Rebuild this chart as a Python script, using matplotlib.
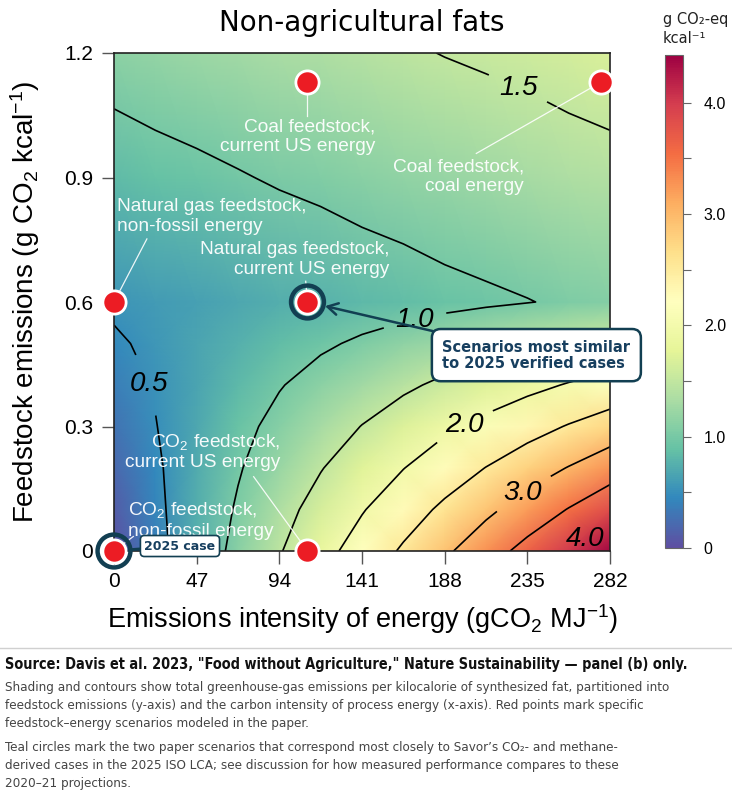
import numpy as np
import matplotlib
matplotlib.use("Agg")
import matplotlib.pyplot as plt
from matplotlib.lines import Line2D
from matplotlib.ticker import FixedLocator

plt.rcParams['mathtext.fontset'] = 'custom'
plt.rcParams['mathtext.rm'] = 'Liberation Sans'
plt.rcParams['mathtext.it'] = 'Liberation Sans:italic'
plt.rcParams['mathtext.bf'] = 'Liberation Sans:bold'

# ---------------- data ----------------
energy_intensity = [0, 23.5, 47, 70.5, 94, 117.5, 141, 164.5, 188, 211.5, 235, 258.5, 282]
feedstock_emissions = [0.0, 0.1, 0.2, 0.3, 0.4, 0.5, 0.6, 0.9, 1.2]
total_f000 = [0.02, 0.38, 0.75, 1.11, 1.47, 1.84, 2.20, 2.56, 2.92, 3.29, 3.65, 4.01, 4.38]
total_f010 = [0.11, 0.42, 0.73, 1.04, 1.35, 1.66, 1.97, 2.28, 2.59, 2.90, 3.21, 3.52, 3.83]
total_f020 = [0.20, 0.45, 0.71, 0.97, 1.22, 1.48, 1.74, 1.99, 2.25, 2.51, 2.77, 3.02, 3.28]
total_f030 = [0.28, 0.49, 0.69, 0.90, 1.10, 1.30, 1.51, 1.71, 1.92, 2.12, 2.32, 2.53, 2.73]
total_f040 = [0.37, 0.52, 0.67, 0.83, 0.98, 1.13, 1.28, 1.43, 1.58, 1.73, 1.88, 2.03, 2.18]
total_f050 = [0.46, 0.56, 0.66, 0.75, 0.85, 0.95, 1.05, 1.15, 1.24, 1.34, 1.44, 1.54, 1.63]
total_f060 = [0.55, 0.59, 0.64, 0.68, 0.73, 0.77, 0.82, 0.86, 0.91, 0.95, 0.99, 1.04, 1.09]
total_f090 = [0.84, 0.89, 0.93, 0.98, 1.03, 1.07, 1.12, 1.16, 1.21, 1.25, 1.30, 1.35, 1.39]
total_f120 = [1.13, 1.18, 1.23, 1.27, 1.32, 1.36, 1.41, 1.46, 1.51, 1.55, 1.59, 1.64, 1.68]
labelled_levels = [0.5, 1.0, 1.5, 2.0, 3.0, 4.0]
unlabelled_levels = [2.5, 3.5]
colorbar_max = 4.43

x_ticks = [0, 47, 94, 141, 188, 235, 282]
x_tick_labels = ['0', '47', '94', '141', '188', '235', '282']
y_ticks = [0, 0.3, 0.6, 0.9, 1.2]
y_tick_labels = ['0', '0.3', '0.6', '0.9', '1.2']
cb_ticks = [0, 1, 2, 3, 4]
cb_tick_labels = ['0', '1.0', '2.0', '3.0', '4.0']

scenario_energy = [0, 110, 0, 110, 110, 277]
scenario_feedstock = [0, 0, 0.6, 0.6, 1.13, 1.13]
highlighted_energy = [0, 110]
highlighted_feedstock = [0, 0.6]

Z = np.array([total_f000, total_f010, total_f020, total_f030, total_f040,
              total_f050, total_f060, total_f090, total_f120])
X, Y = np.meshgrid(energy_intensity, feedstock_emissions)

# ---------------- figure ----------------
W, H = 732, 795
fig = plt.figure(figsize=(W / 100, H / 100), dpi=100)

def fx(px):
    return px / W

def fy(py):
    return 1 - py / H

ax = fig.add_axes([fx(114), fy(551), (610 - 114) / W, (551 - 53) / H])
cax = fig.add_axes([fx(665), fy(548), 18 / W, (548 - 55) / H])

pcm = ax.pcolormesh(X, Y, Z, shading='gouraud', cmap='Spectral_r',
                    vmin=0, vmax=colorbar_max, zorder=0, rasterized=True)
cs = ax.contour(X, Y, Z, levels=labelled_levels, colors='black',
                linewidths=1.2, zorder=1)
ax.contour(X, Y, Z, levels=unlabelled_levels, colors='black',
           linewidths=1.2, zorder=1)
label_spots = [(19, 0.40), (171, 0.558), (229, 1.108), (198, 0.312),
               (235, 0.126), (267, 0.034)]
clabels = ax.clabel(cs, manual=label_spots, fmt='%.1f', inline=True,
                    inline_spacing=10, fontsize=20)
for t in clabels:
    t.set_rotation(0)
    t.set_fontstyle('italic')
    t.set_family(['Liberation Sans', 'DejaVu Sans'])

ax.set_xlim(0, 282)
ax.set_ylim(0, 1.2)
ax.set_xticks(x_ticks)
ax.set_xticklabels(x_tick_labels)
ax.set_yticks(y_ticks)
ax.set_yticklabels(y_tick_labels)
ax.tick_params(length=9, width=1, color='#555555', labelsize=15, pad=6)
for lab in ax.get_xticklabels() + ax.get_yticklabels():
    lab.set_family(['Liberation Sans', 'DejaVu Sans'])
for sp in ax.spines.values():
    sp.set_linewidth(1.2)
    sp.set_color('#222222')

ax.set_xlabel('Emissions intensity of energy (gCO$_2$ MJ$^{-1}$)', fontsize=19.5,
              family=['Liberation Sans', 'DejaVu Sans'], labelpad=8)
ax.set_ylabel('Feedstock emissions (g CO$_2$ kcal$^{-1}$)', fontsize=20,
              family=['Liberation Sans', 'DejaVu Sans'], labelpad=16)
ax.set_title('Non-agricultural fats', fontsize=20, pad=16)

# annotation texts (white)
ann_kw = dict(color='white', fontsize=13.8, family=['Liberation Sans', 'DejaVu Sans'],
              va='center', linespacing=1.2, zorder=3, alpha=0.95)
ax.text(148.7, 0.999, 'Coal feedstock,\ncurrent US energy', ha='right', **ann_kw)
ax.text(233.2, 0.9025, 'Coal feedstock,\ncoal energy', ha='right', **ann_kw)
ax.text(1.7, 0.806, 'Natural gas feedstock,\nnon-fossil energy', ha='left', **ann_kw)
ax.text(156.6, 0.702, 'Natural gas feedstock,\ncurrent US energy', ha='right', **ann_kw)
ax.text(94.8, 0.2395, 'CO$_2$ feedstock,\ncurrent US energy', ha='right', **ann_kw)
ax.text(7.9, 0.075, 'CO$_2$ feedstock,\nnon-fossil energy', ha='left', **ann_kw)

leader_kw = dict(color='white', lw=0.9, zorder=3, alpha=0.9, clip_on=False)
ax.plot([110, 110], [1.13, 1.048], **leader_kw)
ax.plot([277, 206], [1.13, 0.958], **leader_kw)
ax.plot([0, 18.7], [0.6, 0.752], **leader_kw)
ax.plot([110, 109], [0.6, 0.65], **leader_kw)
ax.plot([110, 79.4], [0, 0.179], **leader_kw)
ax.plot([0, 11], [0, 0.035], **leader_kw)

# scenario points
ax.scatter(scenario_energy, scenario_feedstock, s=280, c='#ec1c24',
           edgecolors='white', linewidths=2, zorder=5, clip_on=False)
teal = '#123f52'
ax.scatter(highlighted_energy, highlighted_feedstock, s=560, facecolors='none',
           edgecolors=teal, linewidths=3.2, zorder=6, clip_on=False)

ax.annotate('Scenarios most similar\nto 2025 verified cases', xy=(110, 0.6),
            xytext=(186.7, 0.472), textcoords='data', ha='left', va='center',
            fontsize=10.5, fontweight='bold', color='#173f5f', linespacing=1.1,
            bbox=dict(boxstyle='round,pad=0.72,rounding_size=0.6', fc='white',
                      ec=teal, lw=1.8),
            arrowprops=dict(arrowstyle='->,head_length=0.7,head_width=0.4',
                            color=teal, lw=1.8, shrinkA=0, shrinkB=13),
            annotation_clip=False, zorder=8)
ax.annotate('2025 case', xy=(0, 0), xytext=(37.5, 0.012), textcoords='data',
            ha='center', va='center', fontsize=9, fontweight='bold',
            color='#173f5f',
            bbox=dict(boxstyle='round,pad=0.32', fc='white', ec=teal, lw=1.2),
            arrowprops=dict(arrowstyle='-', color=teal, lw=2.2, shrinkA=0,
                            shrinkB=11),
            annotation_clip=False, zorder=8)

# colorbar
cb = fig.colorbar(pcm, cax=cax, ticks=cb_ticks)
cb.ax.set_yticklabels(cb_tick_labels)
cb.ax.yaxis.set_minor_locator(FixedLocator([0.5, 1.5, 2.5, 3.5]))
cb.ax.tick_params(which='both', length=6, width=0.8, color='#666666',
                  labelsize=11.5, pad=9)
for lab in cb.ax.get_yticklabels():
    lab.set_family(['Liberation Sans', 'DejaVu Sans'])
cb.outline.set_edgecolor('#666666')
cb.outline.set_linewidth(0.8)
fig.text(fx(663), fy(12), 'g CO\u2082-eq\nkcal\u207b\u00b9', ha='left', va='top',
         fontsize=10.5, linespacing=1.35, color='#222222')

# separator and caption
fig.add_artist(Line2D([0, 1], [fy(648), fy(648)], color='#d0d0d0', lw=1))
fig.text(fx(5), fy(665), 'Source: Davis et al. 2023, "Food without Agriculture," '
         'Nature Sustainability \u2014 panel (b) only.', ha='left', va='center',
         fontsize=10.45, fontweight='bold', color='#111111',
         family='DejaVu Sans', fontstretch='condensed')
cap_kw = dict(ha='left', va='center', fontsize=9.6, color='#444444',
              family='DejaVu Sans', fontstretch='condensed')
caption_lines = [
    (688, 'Shading and contours show total greenhouse-gas emissions per kilocalorie of synthesized fat, partitioned into'),
    (706, 'feedstock emissions (y-axis) and the carbon intensity of process energy (x-axis). Red points mark specific'),
    (723, 'feedstock\u2013energy scenarios modeled in the paper.'),
    (748, 'Teal circles mark the two paper scenarios that correspond most closely to Savor\u2019s CO\u2082- and methane-'),
    (766, 'derived cases in the 2025 ISO LCA; see discussion for how measured performance compares to these'),
    (783, '2020\u201321 projections.'),
]
for py, line in caption_lines:
    fig.text(fx(5), fy(py), line, **cap_kw)

fig.savefig('out.png', dpi=100)
